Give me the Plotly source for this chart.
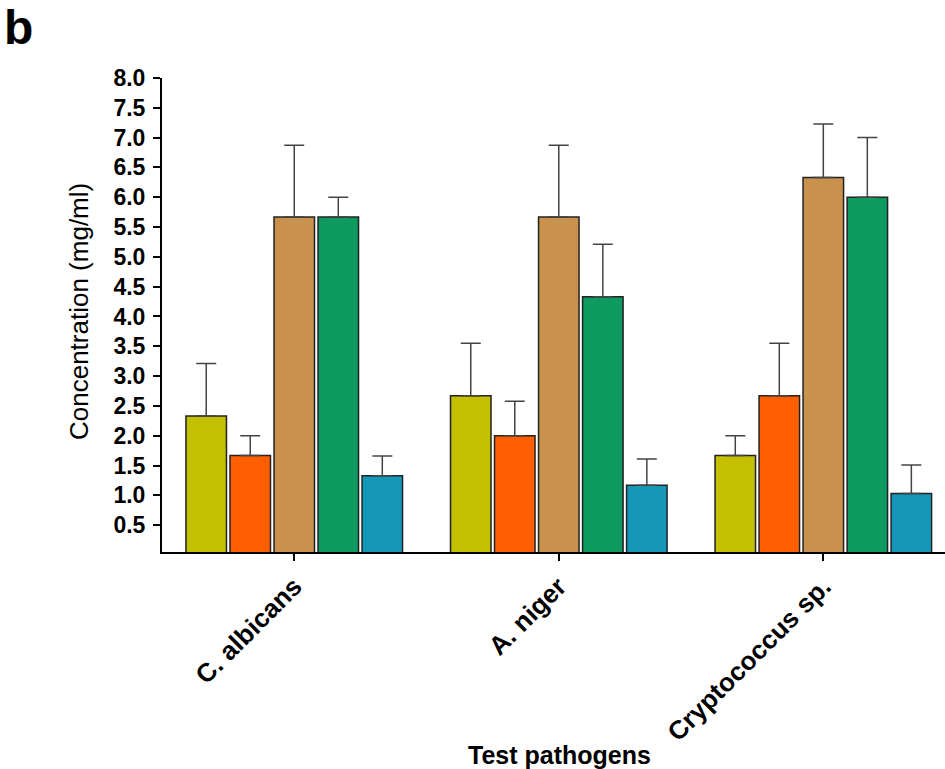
import plotly.graph_objects as go

categories = ["C. albicans", "A. niger", "Cryptococcus sp."]
series_names = ["S1", "S2", "S3", "S4", "S5"]
values = [
    [2.33, 2.67, 1.67],
    [1.67, 2.00, 2.67],
    [5.67, 5.67, 6.33],
    [5.67, 4.33, 6.00],
    [1.33, 1.17, 1.03],
]
errors = [
    [0.88, 0.88, 0.33],
    [0.33, 0.58, 0.88],
    [1.20, 1.20, 0.90],
    [0.33, 0.88, 1.00],
    [0.33, 0.44, 0.48],
]
colors = ["#C2C000", "#FF5F00", "#C8914E", "#0E9A60", "#1598B8"]
y_ticks = [0.5 * i for i in range(1, 17)]

FONT = "Liberation Sans, Arial, sans-serif"

L, R, T, B = 162, 0, 78, 217
PW, PH = 945 - L - R, 769 - T - B

fig = go.Figure()
for name, v, e, c in zip(series_names, values, errors, colors):
    fig.add_trace(go.Bar(
        x=categories, y=v, name=name,
        marker=dict(color=c, line=dict(color="#222222", width=1.5)),
        error_y=dict(type="data", array=e, arrayminus=[0] * len(e), symmetric=False,
                     color="#444444", thickness=1.5, width=10),
    ))

fig.update_layout(
    width=945, height=769,
    margin=dict(l=L, r=R, t=T, b=B, autoexpand=False),
    paper_bgcolor="white", plot_bgcolor="white",
    barmode="group", bargap=0.168, bargroupgap=0.08,
    showlegend=False,
    font=dict(family=FONT, color="black"),
    xaxis=dict(
        range=[-0.5, 2.46], showline=True, linecolor="black", linewidth=2,
        ticks="outside", ticklen=7, tickwidth=2, tickcolor="black",
        tickangle=-45, tickfont=dict(size=26, family=FONT, weight="bold"),
        showgrid=False, zeroline=False, automargin=False,
    ),
    yaxis=dict(
        range=[0.05, 8.0], showline=True, linecolor="black", linewidth=2,
        ticks="outside", ticklen=7, tickwidth=2, tickcolor="black",
        tickvals=y_ticks, ticktext=[f"{t:.1f}" for t in y_ticks],
        tickfont=dict(size=23, family=FONT, weight="bold"), ticklabelstandoff=3,
        showgrid=False, zeroline=False, automargin=False,
    ),
)
# y-axis title
fig.add_annotation(text="Concentration (mg/ml)", x=(79 - L) / PW, y=(769 - B - 312) / PH,
                   xref="paper", yref="paper", textangle=-90, showarrow=False,
                   xanchor="center", yanchor="middle",
                   font=dict(size=26, family=FONT, color="black"))
# x-axis title
fig.add_annotation(text="<b>Test pathogens</b>", x=(559 - L) / PW, y=-(755 - (769 - B)) / PH,
                   xref="paper", yref="paper", showarrow=False,
                   xanchor="center", yanchor="middle",
                   font=dict(size=25, family=FONT, color="black"))
# panel letter
fig.add_annotation(text="<b>b</b>", x=-(L - 2) / PW, y=1 + (T - 28) / PH,
                   xref="paper", yref="paper", showarrow=False,
                   xanchor="left", yanchor="middle",
                   font=dict(size=48, family=FONT, color="black"))

fig.write_html("out.html", config={"displayModeBar": False},
               post_script="document.body.style.margin='0';")
